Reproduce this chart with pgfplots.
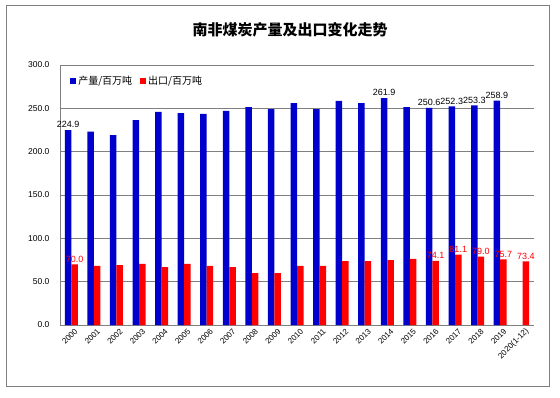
\documentclass[border=0pt]{standalone}
\usepackage{pgfplots}
\pgfplotsset{compat=1.18}
\usepackage{pgfplotstable}
\usepackage{fontspec}
\setmainfont{Liberation Sans}
\newfontfamily\cjk{Noto Sans CJK SC}
\definecolor{barblue}{RGB}{0,0,204}
\definecolor{barred}{RGB}{255,0,0}
\definecolor{gridgray}{RGB}{128,128,128}

\pgfplotstableread{
x prod plab exp elab
0 224.9 224.9 70.0 70.0
1 223.0 {} 68.1 {}
2 219.2 {} 69.2 {}
3 236.5 {} 70.4 {}
4 245.8 {} 66.9 {}
5 244.6 {} 70.4 {}
6 243.5 {} 68.1 {}
7 247.0 {} 66.9 {}
8 251.5 {} 60.0 {}
9 249.2 {} 60.0 {}
10 256.1 {} 68.1 {}
11 249.2 {} 68.1 {}
12 258.5 {} 73.8 {}
13 256.1 {} 73.8 {}
14 261.9 261.9 75.0 {}
15 251.5 {} 76.2 {}
16 250.6 250.6 74.1 74.1
17 252.3 252.3 81.1 81.1
18 253.3 253.3 79.0 79.0
19 258.9 258.9 75.7 75.7
20 nan {} 73.4 73.4
}\data

\begin{document}
\begin{tikzpicture}[x=1pt,y=1pt]
\useasboundingbox (0,0) rectangle (560,397);
\draw[gridgray, line width=1pt] (6,11) rectangle (549,391);
\node[font=\cjk\bfseries\fontsize{15}{18}\selectfont] at (290,367) {南非煤炭产量及出口变化走势};
\begin{axis}[
  at={(60pt,72pt)}, anchor=south west,
  scale only axis, width=474pt, height=260pt,
  ybar=0pt, bar width=6.5pt,
  xmin=-0.5, xmax=20.5, ymin=0, ymax=300,
  ytick={0,50,...,300},
  xtick={0,...,20},
  xticklabels={2000,2001,2002,2003,2004,2005,2006,2007,2008,2009,2010,2011,2012,2013,2014,2015,2016,2017,2018,2019,2020(1-12)},
  x tick label style={rotate=45, anchor=east, font=\fontsize{8}{9}\selectfont, yshift=-7pt, inner sep=0pt},
  y tick label style={font=\fontsize{8.5}{10}\selectfont, xshift=-7pt, /pgf/number format/.cd, fixed, fixed zerofill, precision=1},
  /pgf/number format/assume math mode=true,
  axis x line*=bottom, axis y line*=left,
  axis line style={gridgray, line width=0.8pt, -},
  ymajorgrids, grid style={gridgray, line width=0.6pt},
  major tick length=0pt,
  legend style={at={(0.015,0.975)}, anchor=north west, draw=none, fill=none,
    font=\cjk\fontsize{10}{12}\selectfont, legend columns=2,
    /tikz/every even column/.append style={column sep=6pt}},
  legend image code/.code={\fill[#1] (0pt,-3pt) rectangle (6pt,3pt);},
  nodes near coords, point meta=explicit symbolic,
  every node near coord/.append style={font=\fontsize{9}{10}\selectfont, inner sep=2pt},
]
\addplot[fill=barblue, draw=none, every node near coord/.append style={text=black}] table[x=x, y=prod, meta=plab] {\data};
\addlegendentry{产量/百万吨}
\addplot[fill=barred, draw=none, every node near coord/.append style={text=barred}] table[x=x, y=exp, meta=elab] {\data};
\addlegendentry{出口/百万吨}
\end{axis}
\end{tikzpicture}
\end{document}
